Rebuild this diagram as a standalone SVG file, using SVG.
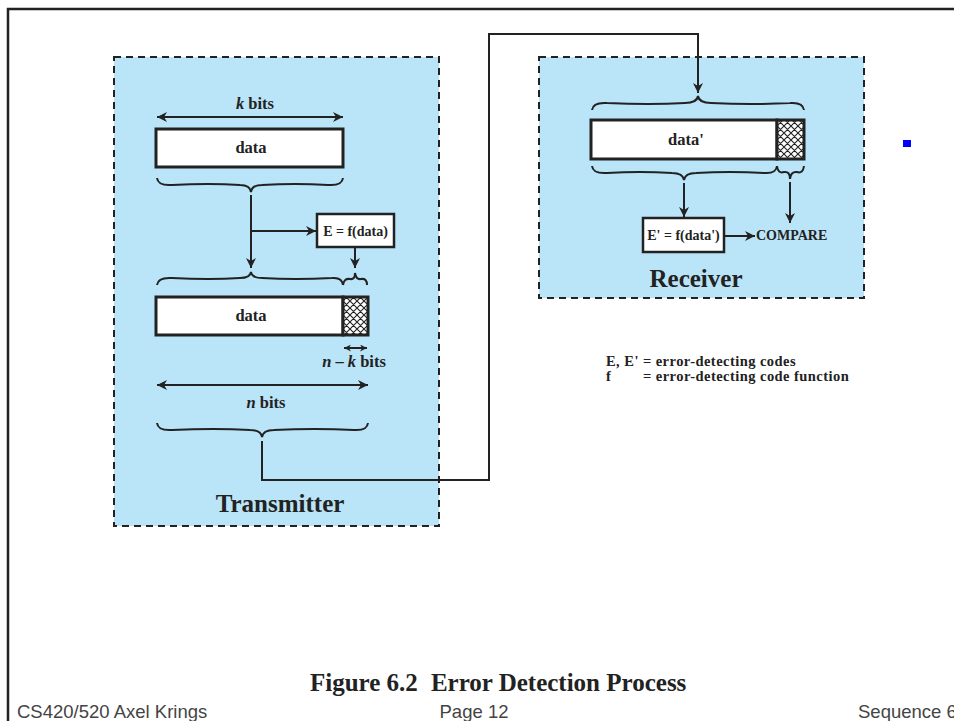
<svg xmlns="http://www.w3.org/2000/svg" width="954" height="721" viewBox="0 0 954 721">
  <defs>
    <marker id="arr" viewBox="0 0 10 10" refX="10" refY="5" markerWidth="7" markerHeight="7" markerUnits="userSpaceOnUse" orient="auto-start-reverse">
      <path d="M0,0 L10,5 L0,10 L3,5 Z" fill="#222"/>
    </marker>
    <marker id="arrL" viewBox="0 0 10 10" refX="10" refY="5" markerWidth="10" markerHeight="10" markerUnits="userSpaceOnUse" orient="auto-start-reverse">
      <path d="M0,0 L10,5 L0,10 L3,5 Z" fill="#222"/>
    </marker>
    <pattern id="hatch" width="7" height="7" patternUnits="userSpaceOnUse">
      <rect width="7" height="7" fill="#fff"/>
      <path d="M-1,-1 L8,8 M-1,6 L1,8 M6,-1 L8,1 M8,-1 L-1,8 M1,-1 L-1,1 M8,6 L6,8" stroke="#222" stroke-width="1.1"/>
    </pattern>
    <style>
      .panel { fill: #bae4f8; stroke: #222; stroke-width: 2; stroke-dasharray: 7 5; }
      .box { fill: #fff; stroke: #222; stroke-width: 3; }
      .sbox { fill: #fff; stroke: #222; stroke-width: 2.5; }
      .hat { fill: url(#hatch); stroke: #222; stroke-width: 3; }
      .line { fill: none; stroke: #222; stroke-width: 2; }
      .brace { fill: none; stroke: #222; stroke-width: 2; }
      .t { font-family: "Liberation Serif", "Times New Roman", serif; font-weight: bold; fill: #222; }
      .lab { font-size: 16.5px; text-anchor: middle; }
      .sm { font-size: 14px; }
      .big { font-size: 25px; text-anchor: middle; }
      .leg { font-size: 14.5px; letter-spacing: 0.45px; }
      .foot { font-family: "Liberation Sans", Arial, sans-serif; font-size: 18.5px; fill: #444; }
    </style>
  </defs>

  <rect width="954" height="721" fill="#fff"/>

  <!-- page frame -->
  <path d="M8,721 L8,9 L954,9" fill="none" stroke="#222" stroke-width="2.5"/>

  <!-- transmitter side -->
  <g id="transmitter">
    <rect class="panel" x="114" y="57" width="325" height="469"/>
    <text class="t big" x="280" y="512">Transmitter</text>
  </g>

  <g id="k-bits">
    <line class="line" x1="157" y1="117" x2="343" y2="117" marker-start="url(#arrL)" marker-end="url(#arrL)"/>
    <text class="t lab" x="255" y="109"><tspan font-style="italic">k</tspan> bits</text>
  </g>

  <g id="data-in">
    <rect class="box" x="156" y="129" width="187" height="38"/>
    <text class="t lab" x="251" y="153">data</text>
  </g>

  <g id="e-box">
    <rect class="sbox" x="317" y="214" width="77" height="33"/>
    <text class="t sm" x="355.5" y="236" text-anchor="middle" font-size="14.5">E = f(data)</text>
  </g>

  <g id="codeword">
    <rect class="box" x="156" y="297" width="187" height="38"/>
    <rect class="hat" x="343" y="297" width="25" height="38"/>
    <text class="t lab" x="251" y="321">data</text>
  </g>

  <g id="nk-bits">
    <line class="line" x1="344" y1="348" x2="367" y2="348" marker-start="url(#arr)" marker-end="url(#arr)"/>
    <text class="t lab" x="354" y="367"><tspan font-style="italic">n</tspan> – <tspan font-style="italic">k</tspan> bits</text>
  </g>

  <g id="n-bits">
    <line class="line" x1="157" y1="385" x2="368" y2="385" marker-start="url(#arrL)" marker-end="url(#arrL)"/>
    <text class="t lab" x="266" y="408"><tspan font-style="italic">n</tspan> bits</text>
  </g>

  <!-- receiver side -->
  <g id="receiver">
    <rect class="panel" x="539" y="57" width="325" height="241"/>
    <text class="t big" x="696" y="287">Receiver</text>
  </g>

  <g id="data-rx">
    <rect class="box" x="591" y="120" width="186" height="39"/>
    <rect class="hat" x="777" y="120" width="27" height="39"/>
    <text class="t lab" x="686" y="145">data'</text>
  </g>

  <g id="e2-box">
    <rect class="sbox" x="643" y="218" width="81" height="34"/>
    <text class="t sm" x="683.5" y="240" text-anchor="middle">E' = f(data')</text>
  </g>

  <g id="compare">
    <text class="t sm" x="756" y="240">COMPARE</text>
  </g>

  <g id="legend">
    <text class="t leg" x="606" y="366">E, E' = error-detecting codes</text>
    <text class="t leg" x="606" y="381">f</text>
    <text class="t leg" x="643" y="381">= error-detecting code function</text>
  </g>

  <rect id="bullet" x="903" y="140" width="8" height="7" fill="#0000ff"/>

  <!-- braces -->
  <g id="braces">
    <!-- under input data, tip down -->
    <path class="brace" d="M157,178 Q158,186 172,185 Q210,183 240,185 Q250,185 251,192 Q252,185 262,185 Q295,183 328,185 Q342,186 343,178"/>
    <!-- above codeword, tip up -->
    <path class="brace" d="M157,285 Q158,277 172,278 Q210,280 240,278 Q250,278 251,272 Q252,278 262,278 Q295,280 332,278 Q342,277 343,285"/>
    <path class="brace" d="M343,285 Q344,278 350,279 Q355,280 355,273 Q356,280 361,279 Q367,278 367,285"/>
    <!-- under n bits, tip down -->
    <path class="brace" d="M157,423 Q158,431 172,430 Q215,428 250,430 Q261,430 262,437 Q263,430 274,430 Q315,428 354,430 Q367,431 368,423"/>
    <!-- above received data, tip up -->
    <path class="brace" d="M592,110 Q593,102 607,103 Q650,105 685,103 Q697,103 698,96 Q699,103 711,103 Q752,105 790,103 Q803,102 804,110"/>
    <!-- under received data, tip down -->
    <path class="brace" d="M592,166 Q593,174 607,173 Q640,171 672,173 Q683,173 684,180 Q685,173 696,173 Q730,171 764,173 Q776,174 777,166"/>
    <path class="brace" d="M777,166 Q778,174 784,172 Q790,171 790,179 Q791,171 797,172 Q803,174 804,166"/>
  </g>

  <!-- connectors -->
  <g id="connectors">
    <line class="line" x1="251" y1="195" x2="251" y2="268" marker-end="url(#arrL)"/>
    <line class="line" x1="251" y1="231" x2="316" y2="231" marker-end="url(#arrL)"/>
    <line class="line" x1="355" y1="248" x2="355" y2="268" marker-end="url(#arrL)"/>
    <path class="line" d="M262,441 L262,480 L489,480 L489,34 L698,34 L698,93" marker-end="url(#arrL)"/>
    <line class="line" x1="684" y1="183" x2="684" y2="217" marker-end="url(#arrL)"/>
    <line class="line" x1="790" y1="182" x2="790" y2="223" marker-end="url(#arrL)"/>
    <line class="line" x1="725" y1="236" x2="755" y2="236" marker-end="url(#arrL)"/>
  </g>

  <!-- caption and footer -->
  <text class="t" font-size="25" x="310" y="691">Figure 6.2<tspan dx="13">Error Detection Process</tspan></text>
  <text class="foot" x="17" y="718">CS420/520 Axel Krings</text>
  <text class="foot" x="474" y="718" text-anchor="middle">Page 12</text>
  <text class="foot" x="858" y="718">Sequence 6</text>
</svg>
